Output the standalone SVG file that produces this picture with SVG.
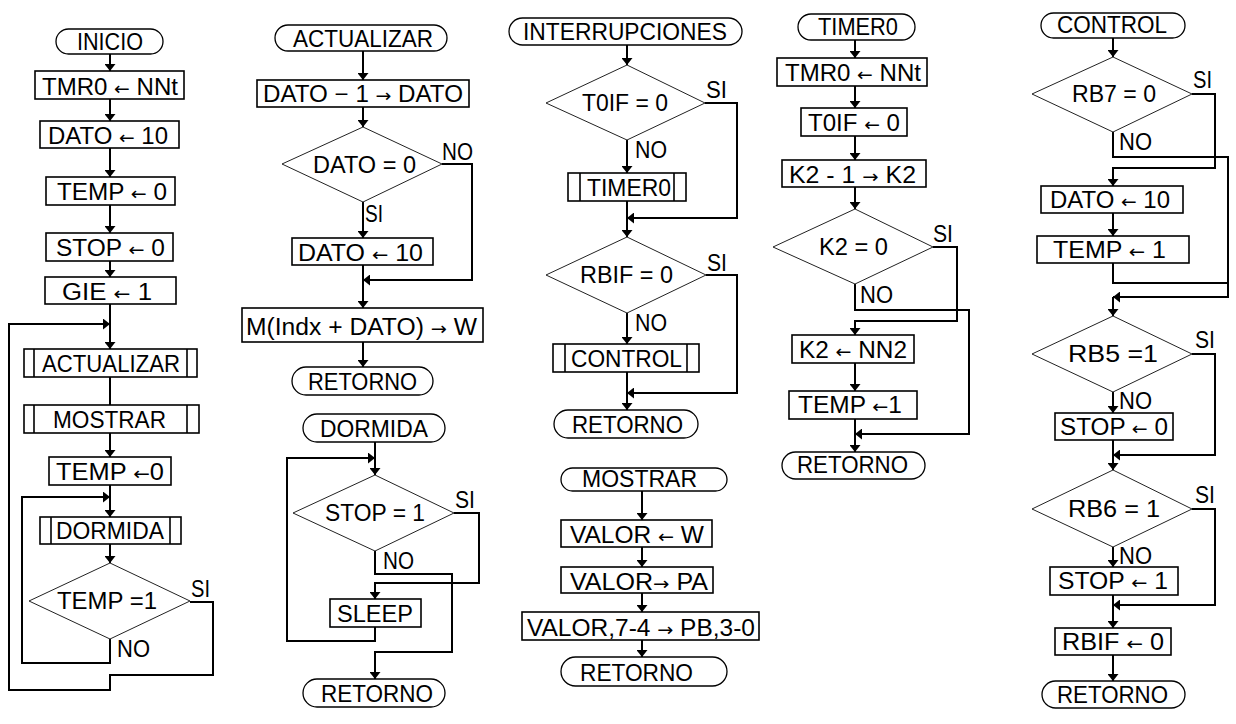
<svg xmlns="http://www.w3.org/2000/svg" width="1236" height="724" viewBox="0 0 1236 724">
<style>
.b{fill:#fff;stroke:#000;stroke-width:1.6}
.t{fill:#fff;stroke:#000;stroke-width:1.3}
.d{fill:#fff;stroke:#222;stroke-width:1}
.c{fill:none;stroke:#000;stroke-width:2}
.a{marker-end:url(#ah)}
text{font-family:"Liberation Sans",Arial,sans-serif;font-size:23px;fill:#000}
.ar{font-family:"DejaVu Sans",sans-serif;font-size:18px}
</style>
<defs>
<marker id="ah" markerUnits="userSpaceOnUse" markerWidth="7" markerHeight="11" viewBox="0 0 7 11" refX="7" refY="5.5" orient="auto"><path d="M0,0 L7,5.5 L0,11 Z" fill="#000"/></marker>
</defs>
<rect width="1236" height="724" fill="#fff"/>

<g id="connectors">
<path class="c a" d="M110,54 V71"/>
<path class="c a" d="M110,99 V121"/>
<path class="c a" d="M110,148 V177"/>
<path class="c a" d="M110,205 V233"/>
<path class="c a" d="M110,261 V277"/>
<path class="c a" d="M110,304 V349"/>
<path class="c a" d="M190,602 H213 V675 H110 V690 H9 V324 H110"/>
<path class="c" d="M110,377 V405"/>
<path class="c a" d="M110,433 V457"/>
<path class="c a" d="M110,485 V517"/>
<path class="c a" d="M110,639 V663 H22 V497 H110"/>
<path class="c a" d="M110,544 V563"/>
<path class="c a" d="M363,51 V80"/>
<path class="c a" d="M363,107 V127"/>
<path class="c a" d="M363,202 V238"/>
<path class="c a" d="M442,164 H472 V280 H363"/>
<path class="c a" d="M363,265 V308"/>
<path class="c a" d="M363,342 V367"/>
<path class="c a" d="M375,442 V475"/>
<path class="c a" d="M375,627 V641 H287 V458 H375"/>
<path class="c a" d="M454,513 H479 V583 H375 V599"/>
<path class="c a" d="M375,551 V574 H452 V652 H375 V679"/>
<path class="c a" d="M627,45 V65"/>
<path class="c a" d="M627,140 V173"/>
<path class="c a" d="M705,103 H737 V218 H627"/>
<path class="c a" d="M627,201 V237"/>
<path class="c a" d="M627,313 V344"/>
<path class="c a" d="M706,275 H737 V393 H627"/>
<path class="c a" d="M627,372 V410"/>
<path class="c a" d="M642,491 V520"/>
<path class="c a" d="M642,547 V567"/>
<path class="c a" d="M642,593 V612"/>
<path class="c a" d="M642,640 V657"/>
<path class="c a" d="M855,40 V58"/>
<path class="c a" d="M855,86 V108"/>
<path class="c a" d="M855,136 V160"/>
<path class="c a" d="M855,187 V209"/>
<path class="c a" d="M933,247 H957 V321 H855 V335"/>
<path class="c a" d="M855,284 V310 H969 V434 H855"/>
<path class="c a" d="M855,363 V391"/>
<path class="c a" d="M855,419 V452"/>
<path class="c a" d="M1113,38 V57"/>
<path class="c a" d="M1192,94 H1215 V168 H1113 V186"/>
<path class="c a" d="M1113,132 V157 H1228 V297 H1113"/>
<path class="c a" d="M1113,213 V236"/>
<path class="c" d="M1113,263 V283 H1228"/>
<path class="c a" d="M1113,297 V316"/>
<path class="c a" d="M1113,392 V413"/>
<path class="c a" d="M1192,354 H1215 V455 H1113"/>
<path class="c a" d="M1113,440 V470"/>
<path class="c a" d="M1113,547 V567"/>
<path class="c a" d="M1192,509 H1215 V605 H1113"/>
<path class="c a" d="M1113,595 V628"/>
<path class="c a" d="M1113,655 V681"/>
</g>

<g id="n-inicio"><rect class="t" x="56" y="29" width="107" height="25" rx="12.5"/><text x="77" y="50" textLength="66" lengthAdjust="spacingAndGlyphs">INICIO</text></g>
<g id="n-tmr0a"><rect class="b" x="35" y="71" width="149" height="28"/><text x="42" y="95" textLength="136" lengthAdjust="spacingAndGlyphs">TMR0 <tspan class="ar">←</tspan> NNt</text></g>
<g id="n-dato10a"><rect class="b" x="40" y="121" width="139" height="27"/><text x="48" y="144" textLength="120" lengthAdjust="spacingAndGlyphs">DATO <tspan class="ar">←</tspan> 10</text></g>
<g id="n-temp0a"><rect class="b" x="46" y="177" width="129" height="28"/><text x="57" y="200" textLength="110" lengthAdjust="spacingAndGlyphs">TEMP <tspan class="ar">←</tspan> 0</text></g>
<g id="n-stop0a"><rect class="b" x="46" y="233" width="127" height="28"/><text x="56" y="256" textLength="109" lengthAdjust="spacingAndGlyphs">STOP <tspan class="ar">←</tspan> 0</text></g>
<g id="n-gie"><rect class="b" x="45" y="277" width="131" height="27"/><text x="62" y="300" textLength="90" lengthAdjust="spacingAndGlyphs">GIE <tspan class="ar">←</tspan> 1</text></g>
<g id="n-sub-actualizar"><rect class="b" x="24" y="349" width="173" height="28"/><path class="c" style="stroke-width:1.6" d="M34,349 V377 M187,349 V377"/><text x="42" y="372" textLength="138" lengthAdjust="spacingAndGlyphs">ACTUALIZAR</text></g>
<g id="n-sub-mostrar"><rect class="b" x="24" y="405" width="175" height="28"/><path class="c" style="stroke-width:1.6" d="M34,405 V433 M187,405 V433"/><text x="53" y="428" textLength="113" lengthAdjust="spacingAndGlyphs">MOSTRAR</text></g>
<g id="n-temp0b"><rect class="b" x="49" y="457" width="122" height="28"/><text x="56" y="480" textLength="108" lengthAdjust="spacingAndGlyphs">TEMP <tspan class="ar">←</tspan>0</text></g>
<g id="n-sub-dormida"><rect class="b" x="40" y="517" width="141" height="27"/><path class="c" style="stroke-width:1.6" d="M51,517 V544 M170,517 V544"/><text x="56" y="539" textLength="108" lengthAdjust="spacingAndGlyphs">DORMIDA</text></g>
<g id="n-temp1"><polygon class="d" points="110,563 190,601 110,639 29,601"/><text x="57" y="609" textLength="100" lengthAdjust="spacingAndGlyphs">TEMP =1</text><text x="191" y="597" textLength="19" lengthAdjust="spacingAndGlyphs">SI</text><text x="117" y="657" textLength="33" lengthAdjust="spacingAndGlyphs">NO</text></g>

<g id="n-actualizar"><rect class="t" x="275" y="25" width="172" height="26" rx="13"/><text x="293" y="47" textLength="140" lengthAdjust="spacingAndGlyphs">ACTUALIZAR</text></g>
<g id="n-datodec"><rect class="b" x="257" y="80" width="212" height="27"/><text x="263" y="102" textLength="200" lengthAdjust="spacingAndGlyphs">DATO − 1 <tspan class="ar">→</tspan> DATO</text></g>
<g id="n-dato0"><polygon class="d" points="363,127 442,164 363,202 282,164"/><text x="313" y="173" textLength="103" lengthAdjust="spacingAndGlyphs">DATO = 0</text><text x="442" y="160" textLength="31" lengthAdjust="spacingAndGlyphs">NO</text><text x="365" y="222" textLength="18" lengthAdjust="spacingAndGlyphs">SI</text></g>
<g id="n-dato10b"><rect class="b" x="292" y="238" width="141" height="27"/><text x="298" y="261" textLength="125" lengthAdjust="spacingAndGlyphs">DATO <tspan class="ar">←</tspan> 10</text></g>
<g id="n-mindx"><rect class="b" x="242" y="308" width="241" height="34"/><text x="246" y="335" textLength="231" lengthAdjust="spacingAndGlyphs">M(Indx + DATO) <tspan class="ar">→</tspan> W</text></g>
<g id="n-ret1"><rect class="t" x="292" y="367" width="141" height="28" rx="14"/><text x="308" y="390" textLength="109" lengthAdjust="spacingAndGlyphs">RETORNO</text></g>

<g id="n-dormida"><rect class="t" x="303" y="414" width="142" height="28" rx="14"/><text x="320" y="437" textLength="108" lengthAdjust="spacingAndGlyphs">DORMIDA</text></g>
<g id="n-stop1q"><polygon class="d" points="375,475 454,513 375,551 293,513"/><text x="325" y="521" textLength="100" lengthAdjust="spacingAndGlyphs">STOP = 1</text><text x="455" y="508" textLength="20" lengthAdjust="spacingAndGlyphs">SI</text><text x="383" y="569" textLength="31" lengthAdjust="spacingAndGlyphs">NO</text></g>
<g id="n-sleep"><rect class="b" x="330" y="599" width="91" height="28"/><text x="337" y="622" textLength="76" lengthAdjust="spacingAndGlyphs">SLEEP</text></g>
<g id="n-ret2"><rect class="t" x="303" y="679" width="142" height="28" rx="14"/><text x="321" y="702" textLength="112" lengthAdjust="spacingAndGlyphs">RETORNO</text></g>

<g id="n-interrupciones"><rect class="t" x="509" y="18" width="233" height="27" rx="13.5"/><text x="523" y="40" textLength="204" lengthAdjust="spacingAndGlyphs">INTERRUPCIONES</text></g>
<g id="n-t0if"><polygon class="d" points="627,65 705,103 627,140 546,103"/><text x="582" y="111" textLength="86" lengthAdjust="spacingAndGlyphs">T0IF = 0</text><text x="706" y="98" textLength="21" lengthAdjust="spacingAndGlyphs">SI</text><text x="635" y="158" textLength="32" lengthAdjust="spacingAndGlyphs">NO</text></g>
<g id="n-sub-timer0"><rect class="b" x="568" y="173" width="118" height="28"/><path class="c" style="stroke-width:1.6" d="M580,173 V201 M674,173 V201"/><text x="587" y="196" textLength="84" lengthAdjust="spacingAndGlyphs">TIMER0</text></g>
<g id="n-rbif"><polygon class="d" points="627,237 706,275 627,313 546,275"/><text x="580" y="283" textLength="93" lengthAdjust="spacingAndGlyphs">RBIF = 0</text><text x="707" y="271" textLength="20" lengthAdjust="spacingAndGlyphs">SI</text><text x="635" y="331" textLength="32" lengthAdjust="spacingAndGlyphs">NO</text></g>
<g id="n-sub-control"><rect class="b" x="553" y="344" width="146" height="28"/><path class="c" style="stroke-width:1.6" d="M565,344 V372 M687,344 V372"/><text x="571" y="367" textLength="111" lengthAdjust="spacingAndGlyphs">CONTROL</text></g>
<g id="n-ret3"><rect class="t" x="554" y="410" width="144" height="28" rx="14"/><text x="572" y="433" textLength="111" lengthAdjust="spacingAndGlyphs">RETORNO</text></g>

<g id="n-mostrar"><rect class="t" x="561" y="468" width="166" height="23" rx="11.5"/><text x="582" y="487" textLength="115" lengthAdjust="spacingAndGlyphs">MOSTRAR</text></g>
<g id="n-valorw"><rect class="b" x="561" y="520" width="151" height="27"/><text x="570" y="543" textLength="134" lengthAdjust="spacingAndGlyphs">VALOR <tspan class="ar">←</tspan> W</text></g>
<g id="n-valorpa"><rect class="b" x="561" y="567" width="152" height="26"/><text x="570" y="590" textLength="138" lengthAdjust="spacingAndGlyphs">VALOR<tspan class="ar">→</tspan> PA</text></g>
<g id="n-valorpb"><rect class="b" x="522" y="612" width="237" height="28"/><text x="527" y="636" textLength="228" lengthAdjust="spacingAndGlyphs">VALOR,7-4 <tspan class="ar">→</tspan> PB,3-0</text></g>
<g id="n-ret4"><rect class="t" x="561" y="657" width="166" height="29" rx="14.5"/><text x="580" y="681" textLength="113" lengthAdjust="spacingAndGlyphs">RETORNO</text></g>

<g id="n-timer0"><rect class="t" x="798" y="14" width="117" height="26" rx="13"/><text x="818" y="35" textLength="80" lengthAdjust="spacingAndGlyphs">TIMER0</text></g>
<g id="n-tmr0b"><rect class="b" x="777" y="58" width="150" height="28"/><text x="785" y="81" textLength="136" lengthAdjust="spacingAndGlyphs">TMR0 <tspan class="ar">←</tspan> NNt</text></g>
<g id="n-t0if0"><rect class="b" x="801" y="108" width="106" height="28"/><text x="808" y="131" textLength="92" lengthAdjust="spacingAndGlyphs">T0IF <tspan class="ar">←</tspan> 0</text></g>
<g id="n-k2dec"><rect class="b" x="782" y="160" width="144" height="27"/><text x="789" y="183" textLength="127" lengthAdjust="spacingAndGlyphs">K2 - 1 <tspan class="ar">→</tspan> K2</text></g>
<g id="n-k20"><polygon class="d" points="855,209 933,247 855,284 773,247"/><text x="819" y="255" textLength="69" lengthAdjust="spacingAndGlyphs">K2 = 0</text><text x="933" y="242" textLength="20" lengthAdjust="spacingAndGlyphs">SI</text><text x="860" y="303" textLength="33" lengthAdjust="spacingAndGlyphs">NO</text></g>
<g id="n-k2nn2"><rect class="b" x="792" y="335" width="122" height="28"/><text x="799" y="358" textLength="108" lengthAdjust="spacingAndGlyphs">K2 <tspan class="ar">←</tspan> NN2</text></g>
<g id="n-temp1b"><rect class="b" x="789" y="391" width="128" height="28"/><text x="798" y="413" textLength="104" lengthAdjust="spacingAndGlyphs">TEMP <tspan class="ar">←</tspan>1</text></g>
<g id="n-ret5"><rect class="t" x="782" y="452" width="143" height="27" rx="13.5"/><text x="797" y="473" textLength="111" lengthAdjust="spacingAndGlyphs">RETORNO</text></g>

<g id="n-control"><rect class="t" x="1041" y="13" width="144" height="25" rx="12.5"/><text x="1057" y="33" textLength="110" lengthAdjust="spacingAndGlyphs">CONTROL</text></g>
<g id="n-rb7"><polygon class="d" points="1113,57 1192,94 1113,132 1032,94"/><text x="1072" y="102" textLength="84" lengthAdjust="spacingAndGlyphs">RB7 = 0</text><text x="1193" y="88" textLength="19" lengthAdjust="spacingAndGlyphs">SI</text><text x="1119" y="150" textLength="33" lengthAdjust="spacingAndGlyphs">NO</text></g>
<g id="n-dato10c"><rect class="b" x="1041" y="186" width="142" height="27"/><text x="1050" y="208" textLength="120" lengthAdjust="spacingAndGlyphs">DATO <tspan class="ar">←</tspan> 10</text></g>
<g id="n-temp1c"><rect class="b" x="1037" y="236" width="152" height="27"/><text x="1053" y="258" textLength="113" lengthAdjust="spacingAndGlyphs">TEMP <tspan class="ar">←</tspan> 1</text></g>
<g id="n-rb5"><polygon class="d" points="1113,316 1192,354 1113,392 1032,354"/><text x="1068" y="362" textLength="90" lengthAdjust="spacingAndGlyphs">RB5 =1</text><text x="1195" y="348" textLength="20" lengthAdjust="spacingAndGlyphs">SI</text><text x="1119" y="409" textLength="33" lengthAdjust="spacingAndGlyphs">NO</text></g>
<g id="n-stop0c"><rect class="b" x="1055" y="413" width="118" height="27"/><text x="1060" y="435" textLength="108" lengthAdjust="spacingAndGlyphs">STOP <tspan class="ar">←</tspan> 0</text></g>
<g id="n-rb6"><polygon class="d" points="1113,470 1192,509 1113,547 1032,509"/><text x="1068" y="517" textLength="92" lengthAdjust="spacingAndGlyphs">RB6 = 1</text><text x="1195" y="503" textLength="20" lengthAdjust="spacingAndGlyphs">SI</text><text x="1119" y="564" textLength="33" lengthAdjust="spacingAndGlyphs">NO</text></g>
<g id="n-stop1c"><rect class="b" x="1050" y="567" width="128" height="28"/><text x="1058" y="589" textLength="110" lengthAdjust="spacingAndGlyphs">STOP <tspan class="ar">←</tspan> 1</text></g>
<g id="n-rbif0"><rect class="b" x="1055" y="628" width="116" height="27"/><text x="1062" y="650" textLength="102" lengthAdjust="spacingAndGlyphs">RBIF <tspan class="ar">←</tspan> 0</text></g>
<g id="n-ret6"><rect class="t" x="1042" y="681" width="143" height="27" rx="13.5"/><text x="1057" y="703" textLength="111" lengthAdjust="spacingAndGlyphs">RETORNO</text></g>
</svg>
